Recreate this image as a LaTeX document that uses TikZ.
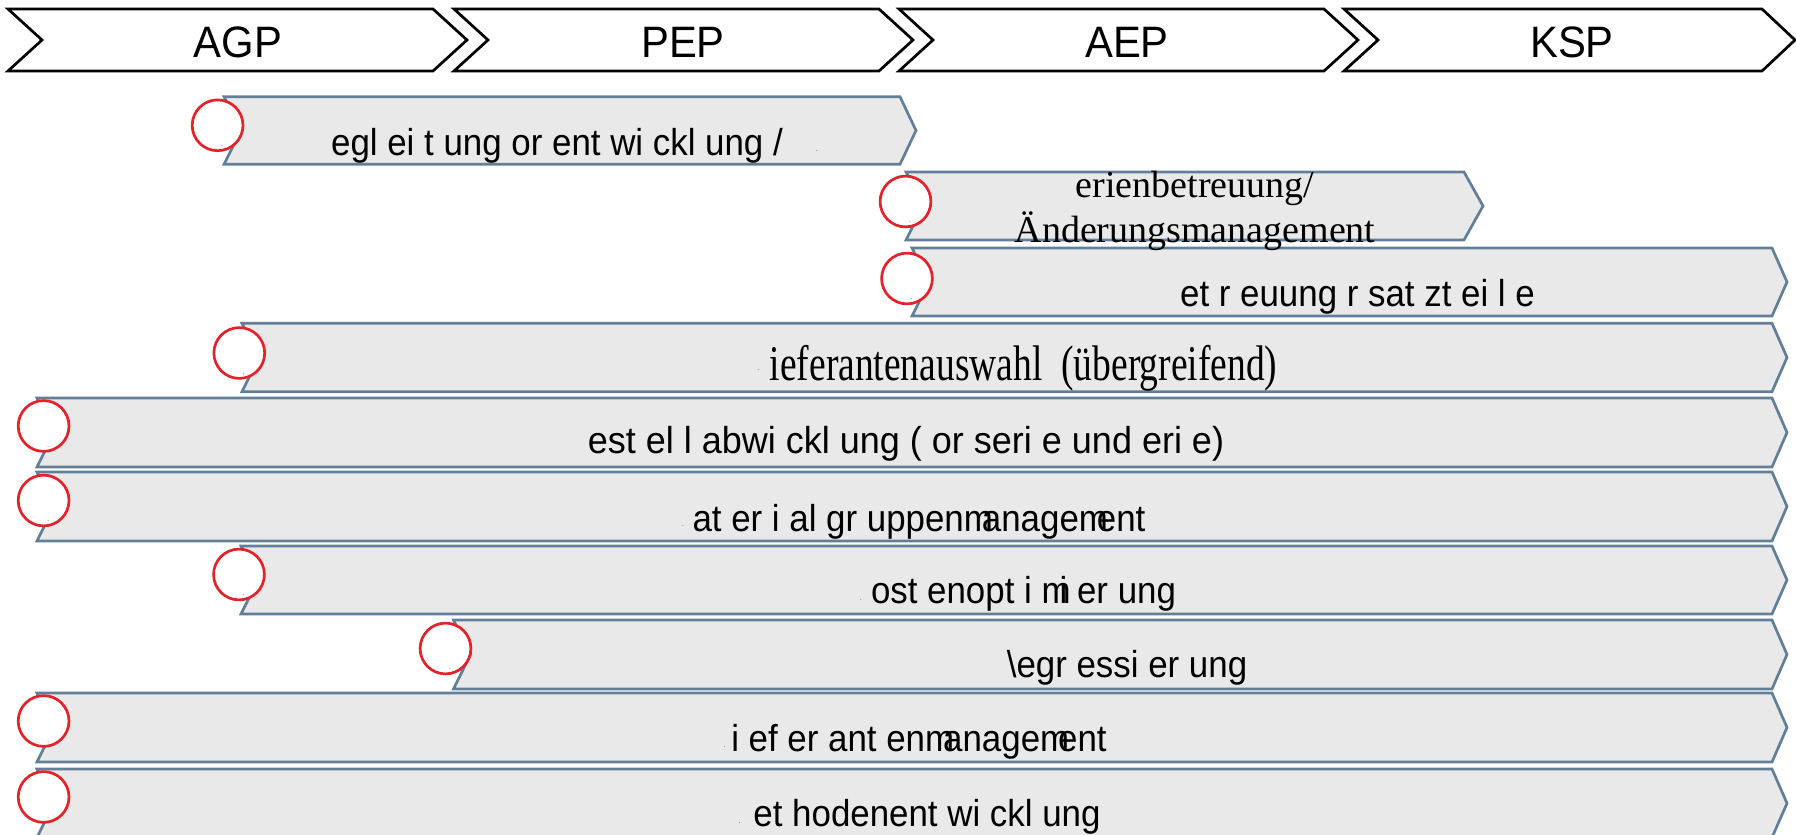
\documentclass[tikz,border=0pt]{standalone}
\usepackage{fontspec}
\usetikzlibrary{calc}
\setmainfont{Liberation Serif}
\newfontfamily\hdrfont[FakeStretch=0.95]{Liberation Sans}
\newfontfamily\lblfont[FakeStretch=0.93]{Liberation Sans}
\newfontfamily\lblwidefont[FakeStretch=0.96]{Liberation Sans}
\newfontfamily\speckfont{Liberation Sans}
\newfontfamily\narrowserif[FakeStretch=0.75]{Liberation Serif}
\definecolor{barfill}{HTML}{E9E9E9}
\definecolor{barline}{HTML}{627F97}
\definecolor{ringred}{HTML}{E3232B}
\newcommand\sqm{m\kern-11bp\relax}
\newcommand\mkchev[1]{\draw[chev] (#1,9) -- ({#1+425},9) -- ({#1+459},40) -- ({#1+425},71) -- (#1,71) -- ({#1+34},40) -- cycle;}
\newcommand\mkbar[5]{\draw[barshape] (#1,#4) -- (#2,#4) -- (#3,{(#4+#5)/2}) -- (#2,#5) -- (#1,#5) -- ({#1+17},{(#4+#5)/2}) -- cycle;}
\tikzset{
 chev/.style={draw=black, line width=2.7bp, fill=white, line join=miter},
 barshape/.style={draw=barline, line width=2.7bp, fill=barfill, line join=miter},
 ring/.style={circle, draw=ringred, line width=2.7bp, fill=white, minimum size=50.8bp, inner sep=0pt},
 hdr/.style={font=\hdrfont\fontsize{44bp}{44bp}\selectfont, anchor=base, inner sep=0pt},
 lbl/.style={font=\lblfont\fontsize{37.5bp}{37.5bp}\selectfont, anchor=base, inner sep=0pt},
 biglbl/.style={font=\lblwidefont\fontsize{37.5bp}{37.5bp}\selectfont, anchor=base, inner sep=0pt},
 slbl/.style={font=\fontsize{38bp}{38bp}\selectfont, anchor=base, inner sep=0pt},
 nlbl/.style={font=\narrowserif\fontsize{50bp}{50bp}\selectfont, anchor=base, inner sep=0pt},
 speck/.style={font=\speckfont\fontsize{6bp}{6bp}\selectfont, anchor=base, inner sep=0pt},
}
\begin{document}
\begin{tikzpicture}[x=1bp,y=-1bp]
\useasboundingbox (0,0) rectangle (1796,835);
\clip (0,0) rectangle (1796,835);
% header chevrons
\mkchev{8}
\mkchev{454}
\mkchev{899}
\draw[chev] (1344,9) -- (1762,9) -- (1795,40) -- (1762,71) -- (1344,71) -- (1378,40) -- cycle;
\node[hdr] (h1) at (238,57) {AGP};
\node[hdr] (h2) at (683,57) {PEP};
\node[hdr] (h3) at (1127,57) {AEP};
\node[hdr] (h4) at (1572,57) {KSP};
% bars
\mkbar{224}{900}{916}{96.7}{164.3}
\mkbar{906}{1464}{1483}{172}{240}
\mkbar{912}{1772}{1787}{248}{316}
\mkbar{242}{1772}{1787}{323.3}{391.7}
\mkbar{37}{1772}{1787}{398}{467}
\mkbar{37}{1772}{1787}{472}{541}
\mkbar{241}{1772}{1787}{546}{614}
\mkbar{453.5}{1772}{1787}{620}{689}
\mkbar{37}{1772}{1787}{693}{762}
\mkbar{37}{1772}{1787}{769}{837.5}
% labels
\node[lbl] (t1) at (557,155.5) {egl ei t ung or ent wi ckl ung /};
\node[speck] (d1) at (817,151) {.};
\node[slbl] (t2a) at (1195,197.7) {erienbetreuung/};
\node[slbl] (t2b) at (1195,242.3) {Änderungsmanagement};
\node[lbl] (t3) at (1357.5,306) {et r euung r sat zt ei l e};
\node[nlbl] (t4) at (1023.5,380) {ieferantenauswahl\ \ (übergreifend)};
\node[speck] (d4) at (759,370) {.};
\node[biglbl] (t5) at (906,453) {est el l abwi ckl ung ( or seri e und eri e)};
\node[lbl] (t6) at (919,531) {at er i al gr uppen\sqm anage\sqm ent};
\node[speck] (d6) at (683,526) {.};
\node[lbl] (t7) at (1023.5,603) {ost enopt i \sqm i er ung};
\node[speck] (d7) at (861,600) {.};
\node[lbl] (t8) at (1127,677) {\textbackslash egr essi er ung};
\node[lbl] (t9) at (919,751) {i ef er ant en\sqm anage\sqm ent};
\node[speck] (d9) at (724.5,747.7) {.};
\node[lbl] (t10) at (927,826) {et hodenent wi ckl ung};
\node[speck] (d10) at (739.4,823) {.};
% rings
\foreach \n/\cx/\cy in {1/217.6/125.3, 2/905.5/201.5, 3/907/278.5, 4/239.3/353, 5/43.6/426, 6/43.6/500.5, 7/239/574.5, 8/445.5/648.5, 9/43.6/721, 10/43.6/797}{
  \node[ring] (r\n) at (\cx,\cy) {};
  \node[speck] (s\n) at ($(r\n.center)+(4.5,21)$) {.};
}
\end{tikzpicture}
\end{document}
